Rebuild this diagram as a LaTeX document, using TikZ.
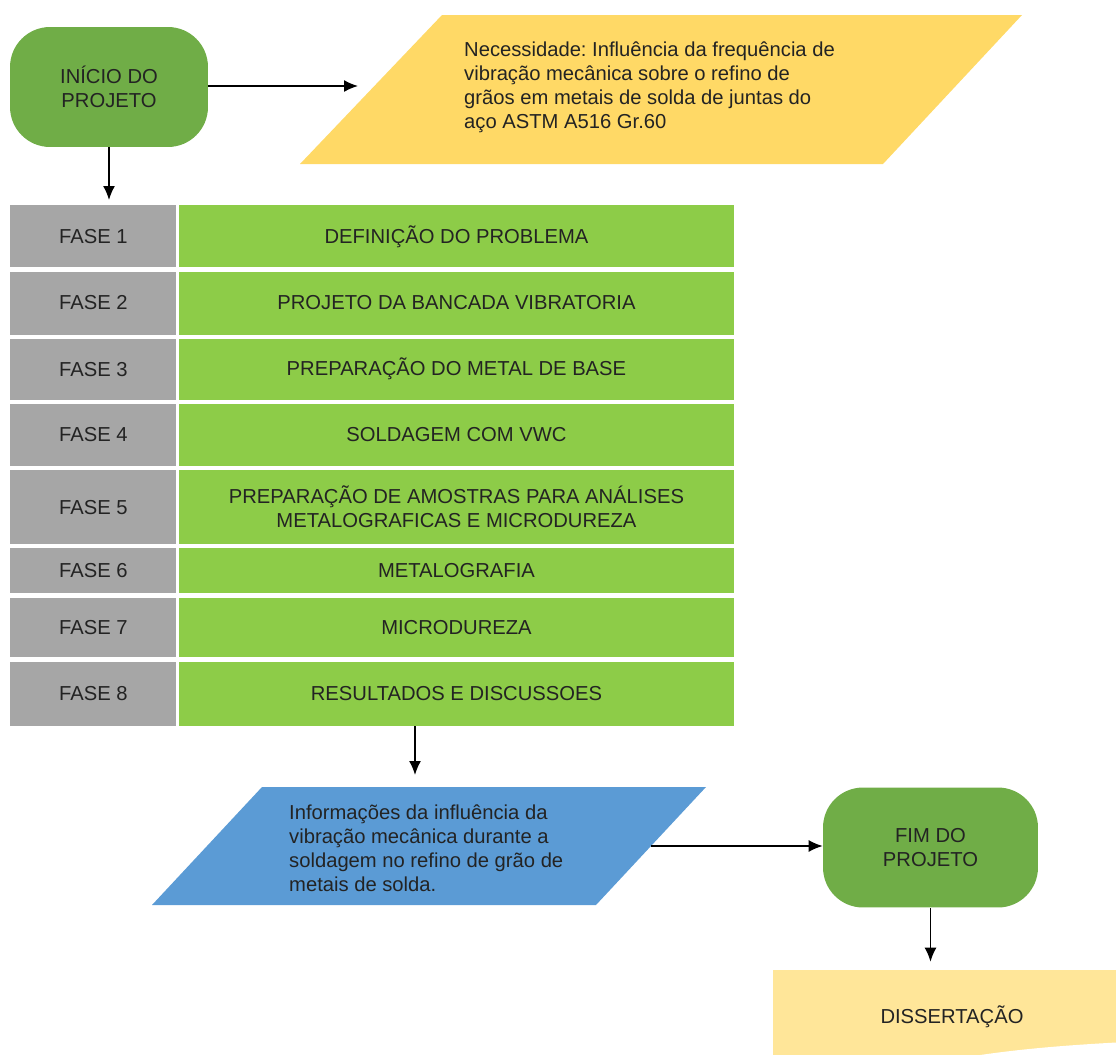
\documentclass[tikz,border=0pt]{standalone}
\usepackage{fontspec}
\setmainfont{Liberation Sans}
\usetikzlibrary{arrows.meta,positioning}
\definecolor{fcgreen}{RGB}{112,173,71}
\definecolor{fclime}{RGB}{141,204,72}
\definecolor{fcgray}{RGB}{166,166,166}
\definecolor{fcyellow}{RGB}{255,217,102}
\definecolor{fcblue}{RGB}{91,155,213}
\definecolor{fccream}{RGB}{255,230,153}
\definecolor{fcink}{RGB}{35,35,35}
\frenchspacing

\begin{document}
\begin{tikzpicture}[x=0.02cm,y=-0.02cm,>={Latex[length=2.8mm,width=2.4mm]},
    font=\fontsize{11.5}{13.7}\selectfont,text=fcink,node distance=0.07cm,
    every node/.style={align=center},
    term/.style={fill=fcgreen,rounded corners=0.8cm,minimum height=2.4cm},
    fase/.style={fill=fcgray,minimum width=3.32cm,inner sep=0pt},
    etapa/.style={fill=fclime,minimum width=11.1cm,inner sep=0pt},
    flow/.style={->,line width=0.9pt}]
  \useasboundingbox (0,0) rectangle (1116,1055);
  % inicio e necessidade
  \node[term,minimum width=3.96cm] (start) at (109,87) {INÍCIO DO\\PROJETO};
  \fill[fcyellow] (300,164) -- (442,15) -- (1022,15) -- (883,164) -- cycle;
  \coordinate (needin) at (358,86);
  \node[anchor=west,align=left] (need) at (458,87) {Necessidade: Influência da frequência de\\vibração mecânica sobre o refino de\\grãos em metais de solda de juntas do\\aço ASTM A516 Gr.60};
  % fases
  \node[fase,minimum height=1.24cm,anchor=north west] (f1) at (10,205) {FASE 1};
  \node[etapa,minimum height=1.24cm,right=0.04cm of f1] (s1) {DEFINIÇÃO DO PROBLEMA};
  \node[fase,minimum height=1.26cm,below=of f1] (f2) {FASE 2};
  \node[etapa,minimum height=1.26cm,right=0.04cm of f2] (s2) {PROJETO DA BANCADA VIBRATORIA};
  \node[fase,minimum height=1.22cm,below=of f2] (f3) {FASE 3};
  \node[etapa,minimum height=1.22cm,right=0.04cm of f3] (s3) {PREPARAÇÃO DO METAL DE BASE};
  \node[fase,minimum height=1.24cm,below=of f3] (f4) {FASE 4};
  \node[etapa,minimum height=1.24cm,right=0.04cm of f4] (s4) {SOLDAGEM COM VWC};
  \node[fase,minimum height=1.48cm,below=of f4] (f5) {FASE 5};
  \node[etapa,minimum height=1.48cm,right=0.04cm of f5] (s5) {PREPARAÇÃO DE AMOSTRAS PARA ANÁLISES\\METALOGRAFICAS E MICRODUREZA};
  \node[fase,minimum height=0.9cm,below=of f5] (f6) {FASE 6};
  \node[etapa,minimum height=0.9cm,right=0.04cm of f6] (s6) {METALOGRAFIA};
  \node[fase,minimum height=1.2cm,below=of f6] (f7) {FASE 7};
  \node[etapa,minimum height=1.2cm,right=0.04cm of f7] (s7) {MICRODUREZA};
  \node[fase,minimum height=1.28cm,below=of f7] (f8) {FASE 8};
  \node[etapa,minimum height=1.28cm,right=0.04cm of f8] (s8) {RESULTADOS E DISCUSSOES};
  % resultado e fim
  \fill[fcblue] (152,905) -- (262,787) -- (706,787) -- (596,905) -- cycle;
  \coordinate (outtop) at (415,787);
  \coordinate (outright) at (651,846);
  \node[anchor=west,align=left] (out) at (283,848) {Informações da influência da\\vibração mecânica durante a\\soldagem no refino de grão de\\metais de solda.};
  \node[term,minimum width=4.3cm] (fim) at (930.5,847.5) {FIM DO\\PROJETO};
  \node[fill=fccream,minimum width=7.16cm,minimum height=1.88cm] (diss) at (952,1017) {DISSERTAÇÃO};
  \fill[white] (950,1060) .. controls (1010,1049) and (1070,1045) .. (1125,1042) -- (1125,1060) -- cycle;
  % setas
  \draw[flow] (start.east |- needin) -- (needin);
  \draw[flow,shorten >=0.1cm] (start.south) -- (start.south |- f1.north);
  \draw[flow,shorten >=0.24cm] (s8.south -| outtop) -- (outtop);
  \draw[flow] (outright) -- (fim.west |- outright);
  \draw[flow,shorten >=0.16cm] (fim.south) -- (fim.south |- diss.north);
\end{tikzpicture}
\end{document}
